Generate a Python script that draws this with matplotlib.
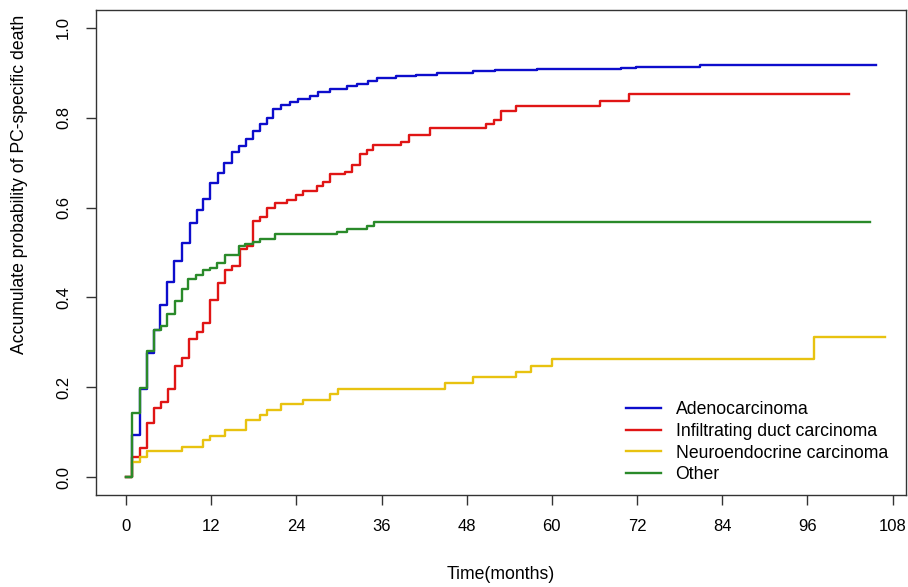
import matplotlib
matplotlib.use('Agg')
import matplotlib.pyplot as plt

plt.rcParams['font.family'] = ['Liberation Sans', 'DejaVu Sans']

# cumulative incidence (months, probability)
adeno_t = [0, 0.8, 2.0, 2.9, 3.9, 4.8, 5.8, 6.8, 7.9, 9.0, 10.0, 10.9, 11.9, 12.9, 13.8,
           14.9, 15.9, 16.9, 17.9, 18.9, 19.8, 20.7, 21.9, 23.1, 24.2, 25.9, 27.0, 28.7,
           31.1, 32.5, 34.1, 35.3, 38.1, 40.9, 43.8, 48.9, 52.0, 57.9, 69.8, 71.9, 80.9, 105.7]
adeno_p = [0, 0.094, 0.196, 0.277, 0.328, 0.384, 0.435, 0.48, 0.522, 0.565, 0.594, 0.62,
           0.654, 0.678, 0.699, 0.723, 0.737, 0.752, 0.77, 0.786, 0.80, 0.819, 0.828, 0.835,
           0.841, 0.849, 0.858, 0.864, 0.87, 0.875, 0.882, 0.888, 0.894, 0.896, 0.90, 0.904,
           0.906, 0.909, 0.911, 0.914, 0.917, 0.917]

duct_t = [0, 0.8, 2.0, 2.9, 4.0, 4.9, 5.9, 6.9, 7.9, 8.9, 10.0, 10.9, 11.9, 12.9, 13.9,
          14.9, 16.0, 17.0, 17.9, 18.9, 19.8, 21.0, 22.7, 24.0, 24.9, 26.9, 27.7, 28.8,
          30.9, 31.9, 32.9, 33.9, 34.8, 38.8, 39.9, 42.8, 50.7, 51.8, 52.8, 54.9, 66.8,
          70.8, 101.9]
duct_p = [0, 0.045, 0.065, 0.12, 0.154, 0.168, 0.196, 0.248, 0.265, 0.308, 0.324, 0.343,
          0.395, 0.433, 0.462, 0.469, 0.507, 0.515, 0.571, 0.578, 0.60, 0.611, 0.618, 0.629,
          0.637, 0.649, 0.657, 0.674, 0.680, 0.694, 0.719, 0.728, 0.739, 0.747, 0.762, 0.777,
          0.786, 0.795, 0.815, 0.826, 0.838, 0.852, 0.852]

neuro_t = [0, 0.8, 2.0, 3.0, 7.9, 10.9, 11.9, 13.9, 16.9, 18.9, 19.9, 21.9, 25.0, 28.7,
           29.9, 44.9, 48.9, 54.9, 57.0, 60.0, 97.0, 107.0]
neuro_p = [0, 0.034, 0.045, 0.059, 0.068, 0.082, 0.092, 0.104, 0.127, 0.138, 0.149, 0.163,
           0.171, 0.185, 0.196, 0.209, 0.222, 0.235, 0.248, 0.263, 0.312, 0.312]

other_t = [0, 0.8, 2.0, 2.9, 3.9, 4.9, 5.8, 6.9, 7.9, 8.8, 9.8, 10.8, 11.8, 12.8, 13.9,
           15.9, 16.8, 17.9, 18.9, 21.0, 29.7, 31.1, 33.9, 34.9, 104.8]
other_p = [0, 0.143, 0.198, 0.28, 0.328, 0.337, 0.362, 0.391, 0.419, 0.44, 0.451, 0.46,
           0.466, 0.477, 0.495, 0.514, 0.519, 0.524, 0.531, 0.541, 0.546, 0.552, 0.56,
           0.568, 0.568]

labels = ['Adenocarcinoma', 'Infiltrating duct carcinoma', 'Neuroendocrine carcinoma', 'Other']
colours = ['#0d0dcc', '#e01515', '#e8c210', '#2a8a2a']
xticks = list(range(0, 109, 12))
yticks = [0.0, 0.2, 0.4, 0.6, 0.8, 1.0]

fig = plt.figure(figsize=(9.08, 5.87), dpi=100)
ax = fig.add_axes([96 / 908, 1 - 495 / 587, 810 / 908, 485 / 587])

series = [(adeno_t, adeno_p), (duct_t, duct_p), (neuro_t, neuro_p), (other_t, other_p)]
for (t, p), lab, col in zip(series, labels, colours):
    ax.step(t, p, where='post', color=col, lw=1.7, label=lab)

ax.set_xlim(-4.23, 109.9)
ax.set_ylim(-0.04, 1.04)
ax.set_xticks(xticks)
ax.set_yticks(yticks)
ax.set_yticklabels(['%.1f' % v for v in yticks])
for s in ax.spines.values():
    s.set_color('#333333')
    s.set_linewidth(1.0)
ax.tick_params(axis='x', length=7, width=1, color='#333333', pad=10, labelsize=12)
ax.tick_params(axis='y', length=7, width=1, color='#333333', pad=11, labelsize=12,
               labelrotation=90)
for lbl in ax.get_yticklabels():
    lbl.set_va('center')

ax.set_xlabel('Time(months)', fontsize=12.7, va='center')
ax.xaxis.set_label_coords(0.5, -0.163)
ax.set_ylabel('Accumulate probability of PC-specific death', fontsize=12.7, va='center')
ax.yaxis.set_label_coords(-0.094, 0.64)

leg = ax.legend(loc='upper left', bbox_to_anchor=(626 / 908, 1 - 401 / 587),
                bbox_transform=fig.transFigure, frameon=False, fontsize=12.7,
                handlelength=1.97, handletextpad=0.84, labelspacing=0.27,
                borderpad=0, borderaxespad=0)

fig.savefig('out.png', dpi=100)
plt.close(fig)
